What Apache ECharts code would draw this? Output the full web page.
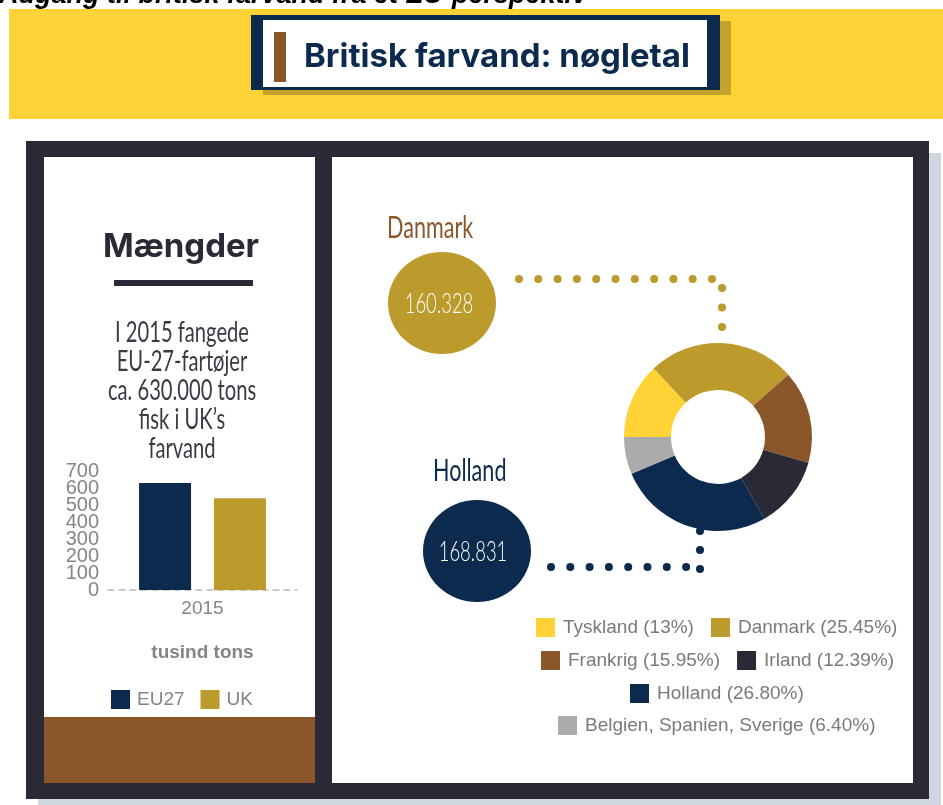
<!DOCTYPE html>
<html>
<head>
<meta charset="utf-8">
<script src="https://cdn.jsdelivr.net/npm/echarts@6/dist/echarts.min.js"></script>
<style>
  html, body { margin: 0; padding: 0; background: #fff; }
  #main { width: 943px; height: 805px; }
</style>
</head>
<body>
<div id="main"></div>
<script>
// data
const barCategories = ['2015'];
const barNames = ['EU27', 'UK'];
const eu27Values = [630];
const ukValues = [540];
const yMax = 700, yStep = 100;

const pieNames = ['Tyskland', 'Danmark', 'Frankrig', 'Irland', 'Holland', 'Belgien, Spanien, Sverige'];
const pieValues = [13, 25.45, 15.95, 12.39, 26.80, 6.40];
const piePctLabels = ['13', '25.45', '15.95', '12.39', '26.80', '6.40'];
const pieColors = ['#FFD335', '#BC9B2C', '#8B572A', '#2A2A36', '#0B2A4E', '#ABABAB'];

const highlightNames = ['Danmark', 'Holland'];
const highlightTons = ['160.328', '168.831'];

const introLines = ['I 2015 fangede', 'EU-27-fartøjer', 'ca. 630.000 tons', 'fisk i UK\u2019s', 'farvand'];
const legendRows = [['Tyskland', 'Danmark'], ['Frankrig', 'Irland'], ['Holland'], ['Belgien, Spanien, Sverige']];

const gold = '#BC9B2C', navy = '#0B2A4E', brown = '#8B572A', dark = '#2A2A36';
const grayTxt = '#858585';
const thin = 'Lato, "Open Sans", sans-serif';
const sans = '"Liberation Sans", Arial, sans-serif';
const heavy = 'Inter, "Noto Sans", sans-serif';

// measure text so the legend rows can be centred on the donut
const ctx = document.createElement('canvas').getContext('2d');
function textW(str, font) { ctx.font = font; return ctx.measureText(str).width; }
function pct(name) { return piePctLabels[pieNames.indexOf(name)]; }
const legFont = '19px ' + sans;
function rowWidth(labels, gap) {
  let w = 0;
  labels.forEach(function (l) { w += 19 + 5 + 3 + textW(l, legFont); });
  return w + gap * (labels.length - 1);
}

const myChart = echarts.init(document.getElementById('main'));

function rect(x, y, w, h, fill, z) {
  return { type: 'rect', z: z || 0, silent: true, shape: { x: x, y: y, width: w, height: h }, style: { fill: fill } };
}
function txt(s, x, y, font, fill, align, z, sx) {
  return {
    type: 'text', z: z || 1, silent: true, x: x, y: y, scaleX: sx || 1,
    style: { text: s, x: 0, y: 0, font: font, fill: fill, textAlign: align || 'center', align: align || 'center', textVerticalAlign: 'middle', verticalAlign: 'middle' }
  };
}
function dots(x0, y0, dx, dy, n, color) {
  const out = [];
  for (let i = 0; i < n; i++) {
    out.push({ type: 'circle', z: 1, silent: true, shape: { cx: x0 + dx * i, cy: y0 + dy * i, r: 4 }, style: { fill: color } });
  }
  return out;
}

let elements = [
  txt('Adgang til britisk farvand fra et EU-perspektiv', -1, -4, 'italic bold 27px ' + sans, '#000', 'left', 0),
  rect(9, 9, 934, 110, '#FFD335', 0),
  rect(263, 21, 468, 74, '#C4A22B', 0),
  rect(251, 15, 469, 75, navy, 0),
  rect(263, 20, 444, 67, '#fff', 0),
  rect(274, 32, 12, 50, brown, 1),
  txt('Britisk farvand: nøgletal', 304, 57, 'bold 33px ' + heavy, navy, 'left', 1),
  rect(38, 153, 903, 658, '#CFD6DE', 0),
  rect(26, 141, 903, 658, dark, 0),
  rect(44, 157, 271, 626, '#fff', 0),
  rect(332, 157, 581, 626, '#fff', 0),
  rect(44, 717, 271, 66, brown, 0),
  txt('Mængder', 181, 247, 'bold 33px ' + heavy, dark, 'center', 1),
  rect(114, 280, 139, 6, dark, 1),
  txt(highlightNames[0], 387, 228, '30px ' + thin, brown, 'left', 1, 0.72),
  txt(highlightNames[1], 433, 471, '30px ' + thin, navy, 'left', 1, 0.72),
  { type: 'ellipse', z: 1, silent: true, shape: { cx: 442, cy: 303, rx: 54, ry: 51 }, style: { fill: gold } },
  { type: 'ellipse', z: 1, silent: true, shape: { cx: 477, cy: 551, rx: 54, ry: 51 }, style: { fill: navy } },
  txt(highlightTons[0], 439, 304, '300 28px ' + thin, '#fff', 'center', 2, 0.66),
  txt(highlightTons[1], 473, 552, '300 28px ' + thin, '#fff', 'center', 2, 0.66)
];
introLines.forEach(function (l, i) {
  elements.push(txt(l, 182, 333 + i * 29, '28px ' + thin, '#3A3A45', 'center', 1, 0.72));
});
elements = elements
  .concat(dots(519, 279, 19.3, 0, 11, gold))
  .concat(dots(722, 288, 0, 19.5, 3, gold))
  .concat(dots(700, 531, 0, 19, 3, navy))
  .concat(dots(551, 567, 19.3, 0, 8, navy));

const legendTops = [618, 651, 684, 716];
const pieLegends = legendRows.map(function (row, i) {
  const labels = row.map(function (n) { return n + ' (' + pct(n) + '%)'; });
  const w = rowWidth(labels, 17);
  return {
    data: row, left: Math.round(717 - w / 2), top: legendTops[i], orient: 'horizontal', padding: 0,
    itemWidth: 19, itemHeight: 19, itemGap: 17, icon: 'rect', selectedMode: false,
    formatter: function (n) { return n + ' (' + pct(n) + '%)'; },
    textStyle: { color: '#7A7A7A', fontSize: 19, fontFamily: sans, padding: [0, 0, 0, 3] }
  };
});
const legends = [{
  data: barNames, left: 111, top: 690, padding: 0,
  itemWidth: 19, itemHeight: 19, itemGap: 16, icon: 'rect', selectedMode: false,
  textStyle: { color: grayTxt, fontSize: 19, fontFamily: sans, padding: [0, 0, 0, 2] }
}].concat(pieLegends);

// the tick labels overlap in the original; split them over two identical axes
// so ECharts does not drop the ones next to min and max
const secondTicks = [yStep, yMax - yStep];
function yAxisDef(showSecond) {
  return {
    type: 'value', min: 0, max: yMax, interval: yStep, position: 'left',
    axisLine: { show: false }, axisTick: { show: false }, splitLine: { show: false },
    axisLabel: {
      color: grayTxt, fontSize: 20, fontFamily: sans, margin: 9,
      showMinLabel: true, showMaxLabel: true,
      formatter: function (v) {
        const isSecond = secondTicks.indexOf(v) >= 0;
        return isSecond === showSecond ? String(v) : '';
      }
    }
  };
}

const option = {
  animation: false,
  graphic: { elements: elements },
  legend: legends,
  grid: { left: 108, right: 943 - 297, top: 471, bottom: 805 - 590, containLabel: false },
  xAxis: {
    type: 'category', data: barCategories,
    name: 'tusind tons', nameLocation: 'middle', nameGap: 53,
    nameTextStyle: { color: grayTxt, fontSize: 19, fontWeight: 'bold', fontFamily: sans },
    axisLine: { lineStyle: { color: '#BBBBBB', type: [6, 5], width: 1.5 } },
    axisTick: { show: false },
    axisLabel: { color: grayTxt, fontSize: 19, fontFamily: sans, margin: 9 }
  },
  yAxis: [yAxisDef(false), yAxisDef(true)],
  series: [
    { name: barNames[0], type: 'bar', data: eu27Values, barWidth: 52, barGap: '44%', itemStyle: { color: navy }, silent: true },
    { name: barNames[1], type: 'bar', data: ukValues, barWidth: 52, itemStyle: { color: gold }, silent: true },
    {
      name: 'Fangst', type: 'pie', center: [718, 437], radius: [47, 94], startAngle: 180, clockwise: true,
      label: { show: false }, labelLine: { show: false }, silent: true,
      data: pieNames.map(function (n, i) { return { name: n, value: pieValues[i], itemStyle: { color: pieColors[i] } }; })
    }
  ]
};
myChart.setOption(option);
</script>
</body>
</html>
